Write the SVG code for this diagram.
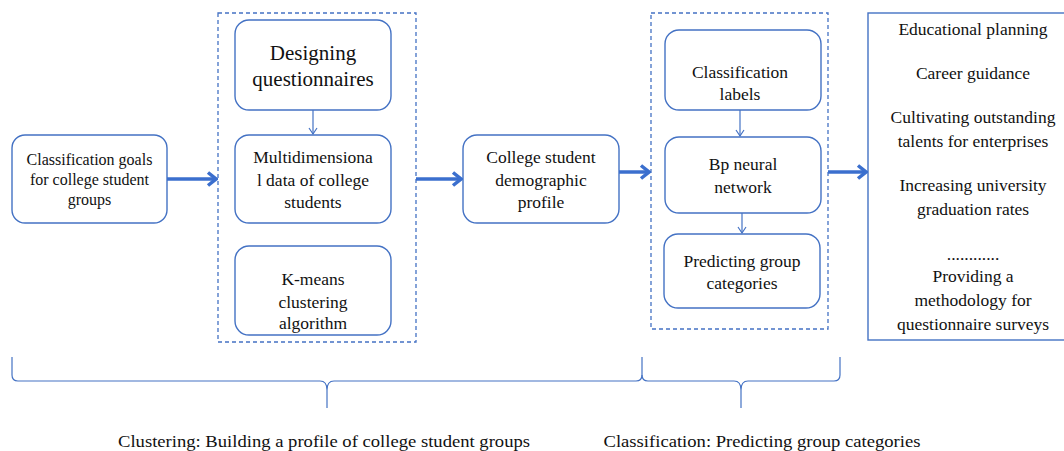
<svg xmlns="http://www.w3.org/2000/svg" width="1064" height="451" viewBox="0 0 1064 451">
  <style>
    .box { fill: #ffffff; stroke: #4472c4; stroke-width: 1.4; }
    .group { fill: none; stroke: #4472c4; stroke-width: 1.3; stroke-dasharray: 4 3; }
    .panel { fill: #ffffff; stroke: #4472c4; stroke-width: 1.4; }
    .thick { fill: none; stroke: #3b6fce; stroke-width: 3.5; }
    .thin { fill: none; stroke: #4472c4; stroke-width: 1.2; }
    .brace { fill: none; stroke: #4472c4; stroke-width: 1.2; }
    text { font-family: "Liberation Serif", "Times New Roman", serif; fill: #111111; text-anchor: middle; }
    .t15 { font-size: 16px; }
    .t16 { font-size: 17.5px; }
    .t20 { font-size: 21px; }
  </style>
  <defs>
    <marker id="bigHead" viewBox="0 0 12 16" refX="10" refY="8" markerWidth="12" markerHeight="16" markerUnits="userSpaceOnUse" orient="auto">
      <path d="M2,1.5 L10,8 L2,14.5" fill="none" stroke="#3b6fce" stroke-width="3.5" stroke-linejoin="miter"/>
    </marker>
    <marker id="smallHead" viewBox="0 0 10 10" refX="8" refY="5" markerWidth="10" markerHeight="10" markerUnits="userSpaceOnUse" orient="auto">
      <path d="M2,1 L8,5 L2,9" fill="none" stroke="#4472c4" stroke-width="1.2"/>
    </marker>
  </defs>

  <!-- dashed stage frames -->
  <g id="clusteringStage">
    <rect class="group" x="218" y="13" width="198" height="329"/>
  </g>
  <g id="classificationStage">
    <rect class="group" x="651" y="13" width="177" height="316"/>
  </g>

  <g id="goals">
    <rect class="box" x="12" y="135" width="155" height="88" rx="13"/>
    <text class="t15" x="89.5" y="165">Classification goals</text>
    <text class="t15" x="89.5" y="185">for college student</text>
    <text class="t15" x="89.5" y="205">groups</text>
  </g>

  <g id="questionnaires">
    <rect class="box" x="235" y="20" width="156" height="90" rx="14"/>
    <text class="t20" x="313" y="60">Designing</text>
    <text class="t20" x="313" y="86">questionnaires</text>
  </g>

  <g id="multidim">
    <rect class="box" x="235" y="135" width="156" height="88" rx="14"/>
    <text class="t16" x="313" y="163">Multidimensiona</text>
    <text class="t16" x="313" y="186">l data of college</text>
    <text class="t16" x="313" y="208">students</text>
  </g>

  <g id="kmeans">
    <rect class="box" x="235" y="246" width="156" height="89" rx="14"/>
    <text class="t16" x="313" y="285">K-means</text>
    <text class="t16" x="313" y="308">clustering</text>
    <text class="t16" x="313" y="329">algorithm</text>
  </g>

  <g id="profile">
    <rect class="box" x="463" y="135" width="156" height="88" rx="14"/>
    <text class="t16" x="541" y="163">College student</text>
    <text class="t16" x="541" y="186">demographic</text>
    <text class="t16" x="541" y="208">profile</text>
  </g>

  <g id="labels">
    <rect class="box" x="665" y="30" width="156" height="80" rx="14"/>
    <text class="t16" x="740" y="78">Classification</text>
    <text class="t16" x="740" y="100">labels</text>
  </g>

  <g id="bpNetwork">
    <rect class="box" x="665" y="137" width="156" height="76" rx="14"/>
    <text class="t16" x="743" y="170">Bp neural</text>
    <text class="t16" x="743" y="193">network</text>
  </g>

  <g id="prediction">
    <rect class="box" x="664" y="234" width="156" height="74" rx="14"/>
    <text class="t16" x="742" y="267">Predicting group</text>
    <text class="t16" x="742" y="289">categories</text>
  </g>

  <g id="applications">
    <rect class="panel" x="868" y="13" width="200" height="327"/>
    <text class="t16" x="973" y="35">Educational planning</text>
    <text class="t16" x="973" y="79">Career guidance</text>
    <text class="t16" x="973" y="123">Cultivating outstanding</text>
    <text class="t16" x="973" y="147">talents for enterprises</text>
    <text class="t16" x="973" y="191">Increasing university</text>
    <text class="t16" x="973" y="215">graduation rates</text>
    <text class="t16" x="973" y="260">............</text>
    <text class="t16" x="973" y="282">Providing a</text>
    <text class="t16" x="973" y="306">methodology for</text>
    <text class="t16" x="973" y="330">questionnaire surveys</text>
  </g>

  <g id="connectors">
    <line class="thick" x1="167" y1="179" x2="216" y2="179" marker-end="url(#bigHead)"/>
    <line class="thick" x1="416" y1="179" x2="461" y2="179" marker-end="url(#bigHead)"/>
    <line class="thick" x1="619" y1="172" x2="649" y2="172" marker-end="url(#bigHead)"/>
    <line class="thick" x1="828" y1="172" x2="866" y2="172" marker-end="url(#bigHead)"/>
    <line class="thin" x1="313" y1="110" x2="313" y2="134" marker-end="url(#smallHead)"/>
    <line class="thin" x1="740" y1="110" x2="740" y2="136" marker-end="url(#smallHead)"/>
    <line class="thin" x1="742" y1="213" x2="742" y2="233" marker-end="url(#smallHead)"/>
  </g>

  <g id="phaseBraces">
    <path class="brace" d="M12,357 L12,375 Q12,381 18,381 L320,381 Q327,381 327,390 L327,408 M327,390 Q327,381 334,381 L636,381 Q642,381 642,375 L642,357"/>
    <path class="brace" d="M642,375 Q642,381 648,381 L734,381 Q741,381 741,390 L741,408 M741,390 Q741,381 748,381 L834,381 Q840,381 840,375 L840,357"/>
  </g>

  <g id="phaseCaptions">
    <text class="t16" x="324" y="447" textLength="412" lengthAdjust="spacingAndGlyphs">Clustering: Building a profile of college student groups</text>
    <text class="t16" x="762" y="447" textLength="317" lengthAdjust="spacingAndGlyphs">Classification: Predicting group categories</text>
  </g>
</svg>
